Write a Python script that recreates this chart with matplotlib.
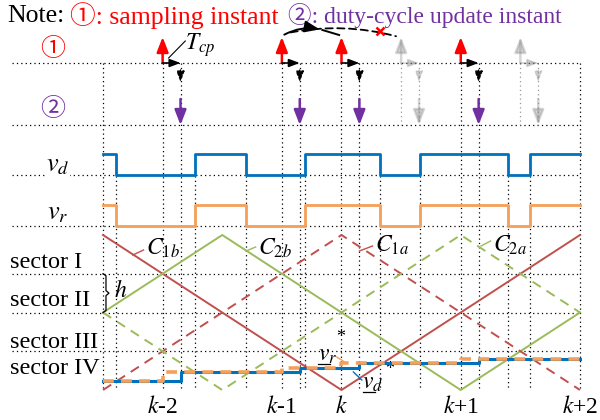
import matplotlib
matplotlib.use('Agg')
import matplotlib.pyplot as plt
from matplotlib.patches import FancyArrowPatch

plt.rcParams['font.family'] = ['Liberation Serif', 'Noto Sans CJK JP']
plt.rcParams['mathtext.fontset'] = 'stix'

# time in units of a quarter carrier period; carriers in sector units (0..4)
c1b_t, c1b_v = [0, 2, 4], [4, 0, 4]
c2b_t, c2b_v = [0, 1, 3, 4], [2, 4, 0, 2]
c1a_t, c1a_v = [0, 2, 4], [0, 4, 0]
c2a_t, c2a_v = [0, 1, 3, 4], [2, 0, 4, 2]

sample_t = [0.5, 1.5, 2.0, 3.0]
skipped_t = [2.5, 3.5]
t_cp = 0.15
ref_levels = [0.23, 0.46, 0.57, 0.70, 0.80]
pwm_edges = [0.11, 0.77, 1.20, 1.69, 2.32, 2.66, 3.40, 3.58]
k_t = [0.5, 1.5, 2.0, 3.0, 4.0]
k_labels = ['$k$-2', '$k$-1', '$k$', '$k$+1', '$k$+2']
sector_names = ['sector I', 'sector II', 'sector III', 'sector IV']

RED = '#FF0000'
PURPLE = '#7030A0'
BLUE = '#0072BD'
ORANGE = '#F4A05A'
CRED = '#C0504D'
CGREEN = '#9BBB59'

# vertical layout (pixels from top)
Y_SAMPLE, Y_UPDATE = 63, 125
Y_VD, Y_VR, PULSE_H = 175, 226, 21
Y_CBOT, SECTOR_H = 390, 38.75
T_END = 4.0


def cy(v):
    return Y_CBOT - SECTOR_H * v


fig = plt.figure(figsize=(6, 4.2), dpi=100)
ax = fig.add_axes([0, 0, 1, 1])
ax.set_xlim(-103 / 119.25, 497 / 119.25)
ax.set_ylim(420, 0)
ax.axis('off')

dot = dict(color='black', lw=0.9, ls=(0, (1, 2.5)))
x_left = -0.76

# horizontal guides
for y in [Y_SAMPLE, Y_UPDATE, Y_VD, Y_VR] + [cy(v) for v in (1, 2, 3)]:
    ax.plot([x_left, T_END], [y, y], zorder=1, **dot)

# vertical guides
for t in [0, T_END] + sample_t + [s + t_cp for s in sample_t]:
    ax.plot([t, t], [Y_SAMPLE, Y_CBOT], zorder=1, **dot)
for t in skipped_t + [s + t_cp for s in skipped_t]:
    ax.plot([t, t], [Y_SAMPLE, Y_UPDATE], color='#999999', lw=0.9,
            ls=(0, (1, 2.5)), zorder=1)
for t in pwm_edges:
    ax.plot([t, t], [Y_VD - PULSE_H, Y_CBOT], zorder=1, **dot)

# PWM pulses of v_d and v_r
px, py = [0], [1]
state = 1
for e in pwm_edges:
    px += [e, e]
    py += [state, 1 - state]
    state = 1 - state
px.append(T_END)
py.append(state)
ax.plot(px, [Y_VD - PULSE_H * v for v in py], color=BLUE, lw=2, zorder=3)
ax.plot(px, [Y_VR - PULSE_H * v for v in py], color=ORANGE, lw=2, zorder=3)

# carriers
ax.plot(c1b_t, [cy(v) for v in c1b_v], color=CRED, lw=1.4, zorder=2)
ax.plot(c2b_t, [cy(v) for v in c2b_v], color=CGREEN, lw=1.4, zorder=2)
ax.plot(c1a_t, [cy(v) for v in c1a_v], color=CRED, lw=1.4,
        ls=(0, (5, 3.5)), zorder=2)
ax.plot(c2a_t, [cy(v) for v in c2a_v], color=CGREEN, lw=1.4,
        ls=(0, (5, 3.5)), zorder=2)

# sampled reference and applied duty cycle
ref_x = [0] + sample_t + [T_END]
duty_x = [0] + [s + t_cp for s in sample_t] + [T_END]
lv = [cy(v) for v in ref_levels] + [cy(ref_levels[-1])]
ax.plot(duty_x, lv, drawstyle='steps-post', color=BLUE, lw=2.2, zorder=4)
ax.plot(ref_x, lv, drawstyle='steps-post', color=ORANGE, lw=2.6,
        ls=(0, (3, 2)), zorder=5)


def arrow(x0, y0, x1, y1, color, lw=1.8, ls='-', hl=0.9, hw=0.35, ms=10,
          alpha=1.0):
    ax.annotate('', xy=(x1, y1), xytext=(x0, y0),
                arrowprops=dict(arrowstyle=f'-|>,head_length={hl},head_width={hw}',
                                color=color, lw=lw, ls=ls, shrinkA=0, shrinkB=0,
                                mutation_scale=ms, alpha=alpha), zorder=6)


def event_arrows(t, ghost=False):
    a = 0.35 if ghost else 1.0
    up = '#888888' if ghost else RED
    down = '#888888' if ghost else PURPLE
    blk = '#888888' if ghost else 'black'
    arrow(t, Y_SAMPLE, t, 37, up, alpha=a)
    arrow(t, Y_SAMPLE, t + t_cp, Y_SAMPLE, blk, lw=1.2, hl=0.8, hw=0.3, ms=8, alpha=a)
    arrow(t + t_cp, 70, t + t_cp, 82, blk, lw=1.0, ls=(0, (2, 1.5)), hl=0.8, hw=0.3,
          ms=8, alpha=a)
    arrow(t + t_cp, 99, t + t_cp, Y_UPDATE, down, alpha=a)


for s in sample_t:
    event_arrows(s)
for s in skipped_t:
    event_arrows(s, ghost=True)

# update path from k-1 to k, and the one that does not happen
ax.add_patch(FancyArrowPatch((1.5, 36), (1.84, 30), connectionstyle='arc3,rad=-0.2',
                             arrowstyle='-|>,head_length=0.9,head_width=0.35',
                             mutation_scale=10, color='black', lw=1.4, zorder=6))
ax.plot([1.84, 1.98], [30, 35], color='black', lw=1.4, zorder=6)
ax.add_patch(FancyArrowPatch((1.55, 33), (2.48, 37), connectionstyle='arc3,rad=-0.12',
                             arrowstyle='-', color='black', lw=1.3,
                             ls=(0, (4, 2.5)), zorder=6))
ax.plot([2.32], [31], marker='x', color=RED, ms=6, mew=1.8, zorder=7)

# T_cp label
ax.plot([0.55, 0.69], [58, 41], color='black', lw=0.8)
ax.text(0.69, 45, '$T_{cp}$', fontsize=17, va='center', ha='left')

# header
ax.text(-0.80, 16, 'Note:', fontsize=18.5, va='center', ha='left')
ax.text(-0.28, 16, '①: sampling instant', fontsize=18.5, va='center', ha='left',
        color=RED)
ax.text(1.55, 16, '②: duty-cycle update instant', fontsize=17, va='center',
        ha='left', color=PURPLE)

ax.text(-0.42, 50, '①', fontsize=18, va='center', ha='center', color=RED)
ax.text(-0.42, 110, '②', fontsize=18, va='center', ha='center', color=PURPLE)

wb = dict(facecolor='white', edgecolor='none', pad=0.5)
ax.text(-0.38, 166, '$v_d$', fontsize=19, va='center', ha='center', bbox=wb)
ax.text(-0.38, 214, '$v_r$', fontsize=19, va='center', ha='center', bbox=wb)

for name, y in zip(sector_names, [262, 300, 343, 368]):
    ax.text(-0.78, y, name, fontsize=17.5, va='center', ha='left')

# h brace between sector lines
b0, b1 = cy(3), cy(2)
bm = (b0 + b1) / 2
ax.plot([0.0, 0.025, 0.025, 0.05, 0.025, 0.025, 0.0],
        [b0, b0 + 2, bm - 2.5, bm, bm + 2.5, b1 - 2, b1],
        color='black', lw=0.9)
ax.text(0.09, bm - 2, '$h$', fontsize=17, va='center', ha='left')

# carrier names with leader lines
for (tx, ty, lx, ly, lab, col) in [
        (0.36, 248, (0.25, 0.34), (255, 250), '$C_{1b}$', CRED),
        (1.30, 248, (1.20, 1.28), (251, 247), '$C_{2b}$', CGREEN),
        (2.28, 245, (2.15, 2.26), (251, 246), '$C_{1a}$', CRED),
        (3.27, 245, (3.17, 3.25), (246, 241), '$C_{2a}$', CGREEN)]:
    ax.plot(lx, ly, color=col, lw=1.0)
    ax.text(tx, ty, lab, fontsize=17, va='center', ha='left')

# reference and duty-cycle labels (underlined v)
ax.plot([1.96, 2.04], [357, 363], color=ORANGE, lw=1.0)
ax.text(1.88, 356, '$v_r$', fontsize=17, va='center', ha='center')
ax.plot([1.80, 1.90], [364, 364], color='black', lw=0.9)
ax.text(1.99, 338, '*', fontsize=13, va='center', ha='center')
ax.plot([2.10, 2.17], [372, 380], color=BLUE, lw=1.0)
ax.text(2.26, 384, '$v_d$', fontsize=17, va='center', ha='center')
ax.plot([2.18, 2.28], [392, 392], color='black', lw=0.9)
ax.text(2.40, 369, '*', fontsize=13, va='center', ha='center')

for t, lab in zip(k_t, k_labels):
    ax.text(t, 407, lab, fontsize=17, va='center', ha='center')

fig.savefig('out.png', dpi=100)
